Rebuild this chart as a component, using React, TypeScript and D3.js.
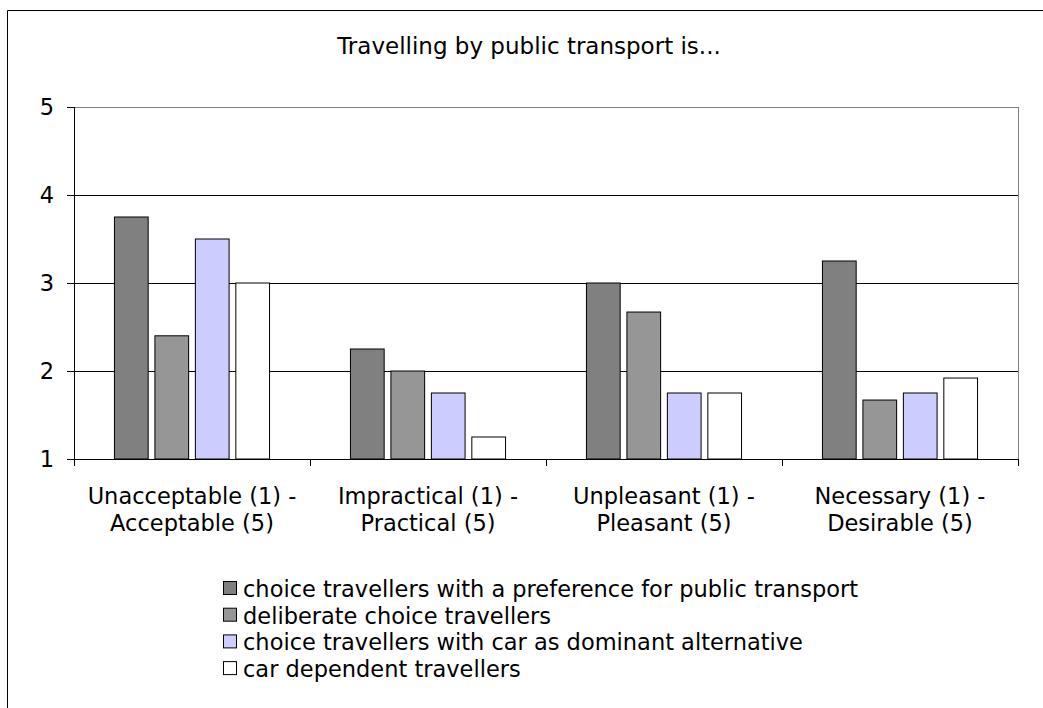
import React from "react";
import * as d3 from "d3";

const title = "Travelling by public transport is...";
const categories: string[][] = [
  ["Unacceptable (1) -", "Acceptable (5)"],
  ["Impractical (1) -", "Practical (5)"],
  ["Unpleasant (1) -", "Pleasant (5)"],
  ["Necessary (1) -", "Desirable (5)"],
];
const seriesNames = [
  "choice travellers with a preference for public transport",
  "deliberate choice travellers",
  "choice travellers with car as dominant alternative",
  "car dependent travellers",
];
const seriesColors = ["#808080", "#969696", "#CCCCFF", "#FFFFFF"];
const preferenceTravellers = [3.75, 2.25, 3.0, 3.25];
const deliberateTravellers = [2.4, 2.0, 2.67, 1.67];
const carAlternativeTravellers = [3.5, 1.75, 1.75, 1.75];
const carDependentTravellers = [3.0, 1.25, 1.75, 1.92];
const seriesValues = [preferenceTravellers, deliberateTravellers, carAlternativeTravellers, carDependentTravellers];
const yTicks = [1, 2, 3, 4, 5];

const W = 1043;
const H = 708;
const FONT = "'DejaVu Sans', Verdana, sans-serif";
const FS = 22.5;

export default function App() {
  const left = 74, right = 1018, top = 107, bottom = 459;
  const y = d3.scaleLinear().domain([1, 5]).range([bottom, top]);
  const x0 = d3.scaleBand<number>().domain(categories.map((_, i) => i)).range([left, right]).paddingInner(0).paddingOuter(0);
  const bw = x0.bandwidth();
  const unit = bw / 7;
  const barW = unit;
  const x1 = (s: number) => unit * 1.2 + s * unit * 1.2;

  return (
    <svg width={W} height={H} style={{ position: "absolute", left: 0, top: 0, background: "#fff" }} fontFamily={FONT}>
      <rect x={0} y={0} width={W} height={H} fill="#fff" />
      {/* outer chart border */}
      <path d={`M7.5,${H + 5} V10.5 H${W + 5}`} fill="none" stroke="#000" strokeWidth={1} />
      <text x={529} y={54} textAnchor="middle" fontSize={23} fill="#000">{title}</text>

      {/* gridlines */}
      {yTicks.map((t) => (
        <line key={"g" + t} x1={left} x2={right} y1={Math.round(y(t)) + 0.5} y2={Math.round(y(t)) + 0.5} stroke={t === 5 ? "#808080" : "#000"} strokeWidth={1} />
      ))}
      <line x1={right + 0.5} x2={right + 0.5} y1={top} y2={bottom} stroke="#808080" strokeWidth={1} />

      {/* bars */}
      {seriesValues.map((vals, s) =>
        vals.map((v, c) => (
          <rect
            key={`b${s}-${c}`}
            x={(x0(c) as number) + x1(s)}
            y={y(v)}
            width={barW}
            height={y(1) - y(v)}
            fill={seriesColors[s]}
            stroke="#000"
            strokeWidth={1}
          />
        ))
      )}

      {/* axes */}
      <line x1={left + 0.5} x2={left + 0.5} y1={top} y2={bottom} stroke="#000" />
      <line x1={left} x2={right} y1={Math.round(bottom) + 0.5} y2={Math.round(bottom) + 0.5} stroke="#000" />
      {yTicks.map((t) => (
        <g key={"yt" + t}>
          <line x1={left - 7} x2={left} y1={Math.round(y(t)) + 0.5} y2={Math.round(y(t)) + 0.5} stroke="#000" />
          <text x={54} y={y(t) + 8} textAnchor="end" fontSize={FS} fill="#000">{t}</text>
        </g>
      ))}
      {d3.range(categories.length + 1).map((i) => {
        const xx = Math.round(left + i * bw) + 0.5;
        return <line key={"xt" + i} x1={xx} x2={xx} y1={bottom} y2={bottom + 7} stroke="#000" />;
      })}
      {categories.map((lines, c) => (
        <text key={"c" + c} x={(x0(c) as number) + bw / 2} textAnchor="middle" fontSize={FS} fill="#000">
          {lines.map((l, k) => (
            <tspan key={k} x={(x0(c) as number) + bw / 2} y={504 + k * 27}>{l}</tspan>
          ))}
        </text>
      ))}

      {/* legend */}
      {seriesNames.map((n, s) => (
        <g key={"l" + s} transform={`translate(0,${597 + s * 26.7})`}>
          <rect x={223.5} y={-15.5} width={13} height={13} fill={seriesColors[s]} stroke="#000" />
          <text x={243} y={0} fontSize={FS} fill="#000">{n}</text>
        </g>
      ))}
    </svg>
  );
}
